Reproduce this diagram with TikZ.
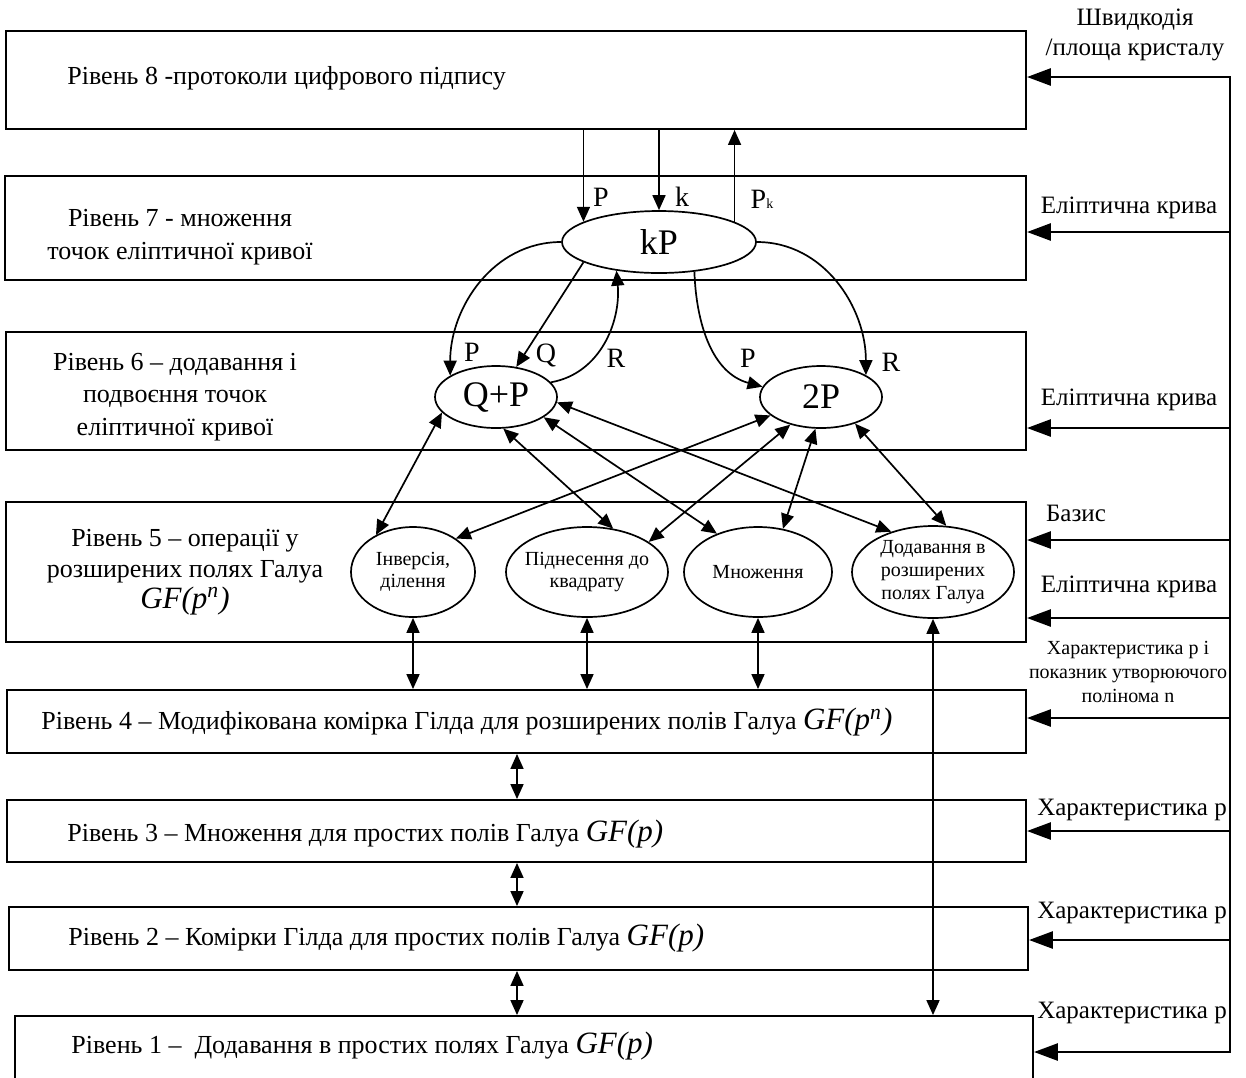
\documentclass[tikz,border=0pt]{standalone}
\usepackage{fontspec}
\setmainfont{Liberation Serif}
\usetikzlibrary{shapes.geometric,arrows.meta,fit,positioning}

\newcommand{\gfield}[1]{{\fontsize{15.5}{16}\selectfont\itshape GF(#1)}}

\begin{document}
\begin{tikzpicture}[x=0.5pt,y=-0.5pt,
  levelbox/.style={draw,line width=0.95pt,inner sep=0pt},
  leveltext/.style={font=\fontsize{13}{16.5}\selectfont,align=center,inner sep=0pt},
  pointop/.style={draw,ellipse,line width=0.85pt,inner sep=0pt,font=\fontsize{18}{20}\selectfont},
  fieldop/.style={draw,ellipse,line width=0.85pt,inner sep=0pt,minimum height=45pt,font=\fontsize{10}{11}\selectfont,align=center},
  sig/.style={font=\fontsize{14}{16}\selectfont,inner sep=0pt},
  param/.style={font=\fontsize{12.5}{15}\selectfont,align=center,inner sep=0pt},
  flow/.style={line width=0.85pt,-{Triangle[length=7.5pt,width=6.5pt]}},
  dflow/.style={line width=0.85pt,{Triangle[length=7.5pt,width=6.5pt]}-{Triangle[length=7.5pt,width=6.5pt]}},
  feed/.style={line width=1.4pt,-{Triangle[length=12pt,width=8.5pt]}}]

\useasboundingbox (0,0) rectangle (1246,1077);

% levels
\node[levelbox,fit={(6,31) (1026,129)}] (l8) {};
\node[levelbox,fit={(5,176) (1026,280)}] (l7) {};
\node[levelbox,fit={(6,332) (1026,450)}] (l6) {};
\node[levelbox,fit={(6,502) (1026,642)}] (l5) {};
\node[levelbox,fit={(7,690) (1026,753)}] (l4) {};
\node[levelbox,fit={(7,800) (1026,862)}] (l3) {};
\node[levelbox,fit={(9,907) (1028,970)}] (l2) {};
\node[levelbox,fit={(15,1016) (1033,1090)}] (l1) {};

\node[leveltext,anchor=west] (t8) at (67,78) {Рівень 8 -протоколи цифрового підпису};
\node[leveltext] (t7) at (180,237) {Рівень 7 - множення\\точок еліптичної кривої};
\node[leveltext,font=\fontsize{13}{16.25}\selectfont] (t6) at (175,397) {Рівень 6 – додавання і\\подвоєння точок\\еліптичної кривої};
\node[leveltext,font=\fontsize{13}{15.5}\selectfont] (t5) at (185,572) {Рівень 5 – операції у\\розширених полях Галуа\\\gfield{p\textsuperscript{n}}};
\node[leveltext,anchor=west] (t4) at (41,722) {Рівень 4 – Модифікована комірка Гілда для розширених полів Галуа \gfield{p\textsuperscript{n}}};
\node[leveltext,anchor=west] (t3) at (67,834) {Рівень 3 – Множення для простих полів Галуа \gfield{p}};
\node[leveltext,anchor=west] (t2) at (68,938) {Рівень 2 – Комірки Гілда для простих полів Галуа \gfield{p}};
\node[leveltext,anchor=west] (t1) at (71,1046) {Рівень 1 –\ \ Додавання в простих полях Галуа \gfield{p}};

% operations
\node[pointop,minimum width=97pt,minimum height=31pt] (kp) at (659,242) {kP};
\node[pointop,minimum width=61pt,minimum height=31pt] (qp) at (496,397) {Q+P};
\node[pointop,minimum width=61pt,minimum height=31pt] (dbl) at (821,397) {2P};
\node[fieldop,minimum width=62pt] (inv) at (413,572) {Інверсія,\\ділення};
\node[fieldop,minimum width=81pt,inner xsep=-5pt] (sq) at (587,572) {Піднесення до\\квадрату};
\node[fieldop,minimum width=74pt] (mul) at (758,572) {Множення};
\node[fieldop,minimum width=81pt,minimum height=46pt,font=\fontsize{10}{11.5}\selectfont] (add) at (933,572) {Додавання в\\розширених\\полях Галуа};

% level 8 -- level 7
\draw[flow] (kp.165 |- l8.south) -- (kp.165);
\draw[flow] (kp.north |- l8.south) -- (kp.north);
\draw[flow] (kp.15) -- (kp.15 |- l8.south);
\node[sig] (sP) at (601,197) {P};
\node[sig] (sk) at (682,197) {k};
\node[sig] (sPk) at (762,199) {P{\fontsize{7}{8}\selectfont k}};

% level 7 -- level 6
\draw[flow] (kp.west) to[out=180,in=90] (qp.155);
\draw[flow] (kp.195) -- (qp.56);
\draw[flow] (qp.15) to[out=10,in=-85] (kp.214);
\draw[flow] (kp.320) to[out=-88,in=165] (dbl.170);
\draw[flow] (kp.east) to[out=0,in=90] (dbl.26);
\node[sig] (aP) at (472,352) {P};
\node[sig] (aQ) at (546,355) {Q};
\node[sig] (aR) at (616,358) {R};
\node[sig] (dP) at (748,358) {P};
\node[sig] (dR) at (891,362) {R};

% level 6 -- level 5
\draw[dflow] (qp.196) -- (inv.135);
\draw[dflow] (qp.283) -- (sq.59);
\draw[dflow] (qp.337) -- (mul.137);
\draw[dflow] (qp.355) -- (add.136);
\draw[dflow] (dbl.200) -- (inv.38);
\draw[dflow] (dbl.222) -- (sq.26);
\draw[dflow] (dbl.260) -- (mul.60);
\draw[dflow] (dbl.322) -- (add.74);

% level 5 -- lower levels
\draw[dflow] (inv.south) -- (inv.south |- l4.north);
\draw[dflow] (sq.south) -- (sq.south |- l4.north);
\draw[dflow] (mul.south) -- (mul.south |- l4.north);
\draw[dflow] (add.south) -- (add.south |- l1.north);

\coordinate (spine) at (517,0);
\draw[dflow] (l4.south -| spine) -- (l3.north -| spine);
\draw[dflow] (l3.south -| spine) -- (l2.north -| spine);
\draw[dflow] (l2.south -| spine) -- (l1.north -| spine);

% parameters from the right
\coordinate (rtop) at (1230,77);
\coordinate (rbot) at (1230,1052);
\draw[line width=1.4pt,line cap=rect] (rtop) -- (rbot);
\foreach \lvl/\y in {l8/77,l7/232,l6/428,l5/540,l5/618,l4/718,l3/831,l2/940,l1/1052}{
  \coordinate (f) at (1230,\y);
  \draw[feed] (f) -- (f -| \lvl.east);
}

\node[param] (speed) at (1135,35) {Швидкодія\\/площа кристалу};
\node[param] (curve7) at (1129,208) {Еліптична крива};
\node[param] (curve6) at (1129,400) {Еліптична крива};
\node[param] (basis) at (1076,513) {Базис};
\node[param] (curve5) at (1129,587) {Еліптична крива};
\node[param,font=\fontsize{10}{12}\selectfont] (charpoly) at (1128,672) {Характеристика р і\\показник утворюючого\\полінома n};
\node[param] (char3) at (1132,810) {Характеристика р};
\node[param] (char2) at (1132,913) {Характеристика р};
\node[param] (char1) at (1132,1013) {Характеристика р};

\end{tikzpicture}
\end{document}
